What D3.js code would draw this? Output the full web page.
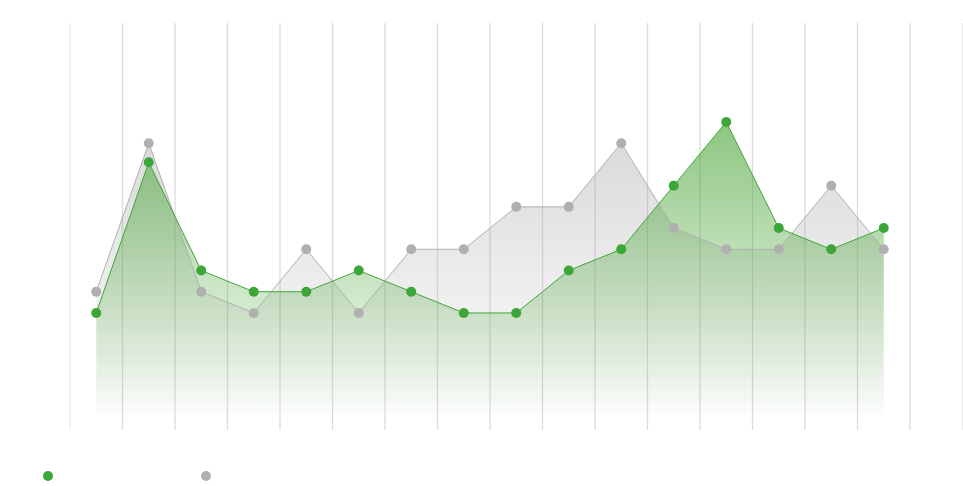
<!DOCTYPE html>
<html><head><meta charset="utf-8">
<script src="https://cdn.jsdelivr.net/npm/d3@7"></script>
<style>body{margin:0;background:#fff;overflow:hidden}svg{display:block}</style>
</head><body>
<svg id="c" width="963" height="486"></svg>
<script>
const categories = ["1","2","3","4","5","6","7","8","9","10","11","12","13","14","15","16"];
const seriesGreen = [5, 12.1, 7, 6, 6, 7, 6, 5, 5, 7, 8, 11, 14, 9, 8, 9];
const seriesGray  = [6, 13, 6, 5, 8, 5, 8, 8, 10, 10, 13, 9, 8, 8, 11, 8];
const legendLabels = ["", ""];

const svg = d3.select("#c");
const nBands = categories.length + 1;
const x = d3.scaleLinear().domain([0, nBands]).range([70, 962.5]);
const y = d3.scaleLinear().domain([0, 14]).range([419, 122]);
const cx = (d, i) => x(i + 0.5);

const defs = svg.append("defs");
function grad(id, color, op) {
  const g = defs.append("linearGradient").attr("id", id).attr("x1", 0).attr("y1", 0).attr("x2", 0).attr("y2", 1);
  g.append("stop").attr("offset", "0%").attr("stop-color", color).attr("stop-opacity", op);
  g.append("stop").attr("offset", "100%").attr("stop-color", color).attr("stop-opacity", 0);
}
grad("gGray", "rgb(150,150,150)", 0.35);
grad("gGreen", "rgb(63,160,43)", 0.6);

// grid
const ticks = d3.range(0, nBands + 1);
svg.append("g").selectAll("line").data(ticks).join("line")
  .attr("x1", d => x(d)).attr("x2", d => x(d))
  .attr("y1", 23).attr("y2", 430)
  .attr("stroke", (d, i) => (i === 0 || i === ticks.length - 1) ? "#ebebeb" : "#dcdcdc")
  .attr("stroke-width", 1.3);

const area = d3.area().x(cx).y0(y(0)).y1(d => y(d));
const line = d3.line().x(cx).y(d => y(d));

svg.append("path").datum(seriesGray).attr("d", area).attr("fill", "url(#gGray)");
svg.append("path").datum(seriesGreen).attr("d", area).attr("fill", "url(#gGreen)");

svg.append("path").datum(seriesGray).attr("d", line).attr("fill", "none").attr("stroke", "#b0b0b0").attr("stroke-width", 1);
svg.append("path").datum(seriesGreen).attr("d", line).attr("fill", "none").attr("stroke", "#3fa63a").attr("stroke-width", 1);

svg.append("g").selectAll("circle").data(seriesGray).join("circle")
  .attr("cx", cx).attr("cy", d => y(d)).attr("r", 5).attr("fill", "#b0b0b0");
svg.append("g").selectAll("circle").data(seriesGreen).join("circle")
  .attr("cx", cx).attr("cy", d => y(d)).attr("r", 5).attr("fill", "#3da639");

// legend
const legColors = ["#3da639", "#b0b0b0"];
const leg = svg.append("g").selectAll("g").data(legendLabels).join("g")
  .attr("transform", (d, i) => `translate(${48 + i * 158},476)`);
leg.append("circle").attr("r", 5).attr("fill", (d, i) => legColors[i]);
leg.append("text").attr("x", 12).attr("dy", "0.35em").attr("font-family", "Roboto").attr("font-size", 13).attr("fill", "#666").text(d => d);
</script>
</body></html>
